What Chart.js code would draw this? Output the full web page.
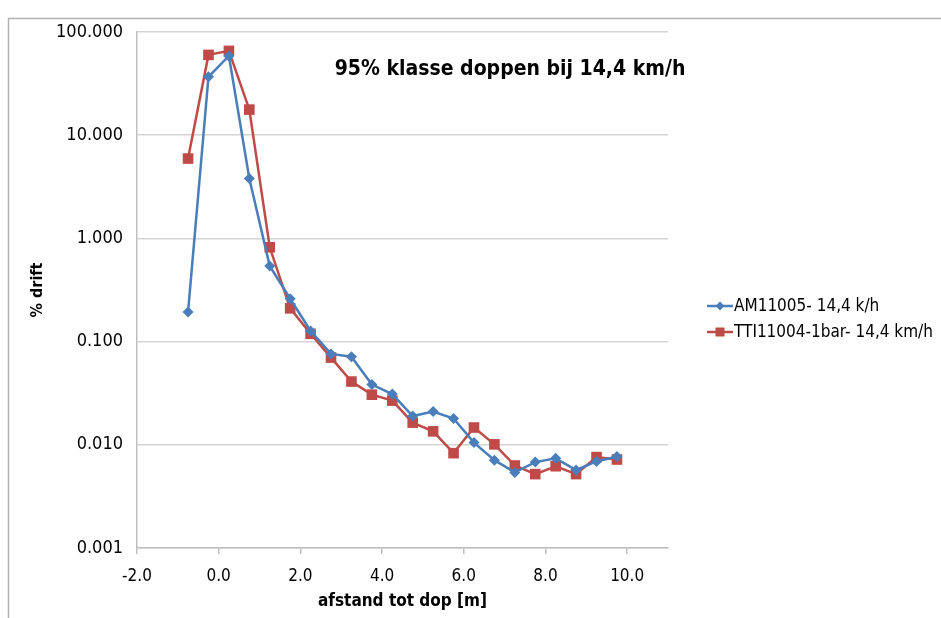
<!DOCTYPE html>
<html>
<head>
<meta charset="utf-8">
<script src="https://cdn.jsdelivr.net/npm/chart.js@4"></script>
<style>
  html, body { margin: 0; padding: 0; background: #fff; }
  #wrap { width: 941px; height: 618px; position: relative; }
</style>
</head>
<body>
<div id="wrap"><canvas id="chart" width="941" height="618"></canvas></div>
<script>
const distances = [-0.75, -0.25, 0.25, 0.75, 1.25, 1.75, 2.25, 2.75, 3.25, 3.75, 4.25, 4.75, 5.25, 5.75, 6.25, 6.75, 7.25, 7.75, 8.25, 8.75, 9.25, 9.75];
const am11005 = [0.194, 36.8, 58.6, 3.81, 0.54, 0.26, 0.127, 0.076, 0.0713, 0.0383, 0.031, 0.019, 0.021, 0.018, 0.0105, 0.0071, 0.0054, 0.0068, 0.0074, 0.0057, 0.0069, 0.0077];
const tti11004 = [5.94, 60.0, 65.6, 17.7, 0.82, 0.21, 0.119, 0.070, 0.041, 0.0306, 0.0268, 0.0164, 0.0135, 0.0083, 0.0147, 0.0101, 0.0063, 0.0052, 0.0062, 0.0052, 0.0076, 0.0072];
const xTicks = [-2, 0, 2, 4, 6, 8, 10];
const yTicks = [0.001, 0.01, 0.1, 1, 10, 100];
const seriesNames = ['AM11005- 14,4 k/h', 'TTI11004-1bar- 14,4 km/h'];
const chartTitle = '95% klasse doppen bij 14,4 km/h';

const FONT = "'Liberation Sans Narrow', 'Arial Narrow', 'DejaVu Sans Condensed', sans-serif";
const BLUE = '#4a7ebb';
const RED = '#be4b48';

const pairs = (ys) => distances.map((x, i) => ({ x: x, y: ys[i] }));

// title, custom legend and outer frame
const extras = {
  id: 'extras',
  afterDraw(chart) {
    const ctx = chart.ctx;
    const area = chart.chartArea;
    ctx.save();
    // frame like the screenshot border
    ctx.strokeStyle = '#b0b0b0';
    ctx.lineWidth = 1.5;
    ctx.beginPath();
    ctx.moveTo(8.5, 640);
    ctx.lineTo(8.5, 18.5);
    ctx.lineTo(960, 18.5);
    ctx.stroke();

    // title inside plot
    ctx.fillStyle = '#000';
    ctx.font = 'bold 21px ' + FONT;
    ctx.textAlign = 'center';
    ctx.textBaseline = 'middle';
    ctx.fillText(chartTitle, area.left + 373, area.top + 38);

    // legend
    const lx = area.right + 39;
    const rows = [
      { name: seriesNames[0], color: BLUE, shape: 'diamond', y: 306 },
      { name: seriesNames[1], color: RED, shape: 'square', y: 332 }
    ];
    ctx.font = '17px ' + FONT;
    ctx.textAlign = 'left';
    rows.forEach(r => {
      ctx.strokeStyle = r.color;
      ctx.fillStyle = r.color;
      ctx.lineWidth = 2.5;
      ctx.beginPath();
      ctx.moveTo(lx, r.y);
      ctx.lineTo(lx + 26, r.y);
      ctx.stroke();
      ctx.beginPath();
      if (r.shape === 'diamond') {
        ctx.moveTo(lx + 13, r.y - 4.5);
        ctx.lineTo(lx + 17.5, r.y);
        ctx.lineTo(lx + 13, r.y + 4.5);
        ctx.lineTo(lx + 8.5, r.y);
      } else {
        ctx.rect(lx + 8.5, r.y - 4.5, 9, 9);
      }
      ctx.fill();
      ctx.fillStyle = '#000';
      ctx.fillText(r.name, lx + 27, r.y + 1);
    });
    ctx.restore();
  }
};

new Chart(document.getElementById('chart'), {
  type: 'line',
  data: {
    datasets: [
      {
        label: seriesNames[0],
        data: pairs(am11005),
        borderColor: BLUE,
        backgroundColor: BLUE,
        borderWidth: 2.5,
        pointStyle: 'rectRot',
        pointRadius: 5.5,
        pointBorderWidth: 0,
        tension: 0
      },
      {
        label: seriesNames[1],
        data: pairs(tti11004),
        borderColor: RED,
        backgroundColor: RED,
        borderWidth: 2.5,
        pointStyle: 'rect',
        pointRadius: 7.5,
        pointBorderWidth: 0,
        tension: 0
      }
    ]
  },
  options: {
    responsive: false,
    animation: false,
    layout: { padding: { top: 32, right: 273, left: 28, bottom: 6 } },
    plugins: {
      legend: { display: false },
      title: { display: false },
      tooltip: { enabled: false }
    },
    scales: {
      x: {
        type: 'linear',
        min: -2,
        max: 11,
        afterBuildTicks: (s) => { s.ticks = xTicks.map(v => ({ value: v })); },
        afterFit: (s) => { s.height = 64; },
        ticks: {
          color: '#000',
          font: { family: FONT, size: 17 },
          padding: 12,
          callback: (v) => v.toFixed(1)
        },
        grid: { display: true, drawOnChartArea: false, drawTicks: true, tickLength: 6, color: '#bfbfbf', lineWidth: 1.5 },
        border: { display: true, color: '#bfbfbf', width: 1.5 },
        title: {
          display: true,
          text: 'afstand tot dop [m]',
          color: '#000',
          font: { family: FONT, size: 17, weight: 'bold' },
          padding: { top: 2, bottom: 0 }
        }
      },
      y: {
        type: 'logarithmic',
        min: 0.001,
        max: 100,
        afterBuildTicks: (s) => { s.ticks = yTicks.map(v => ({ value: v })); },
        afterFit: (s) => { s.width = 109; },
        ticks: {
          color: '#000',
          font: { family: FONT, size: 18 },
          padding: 14,
          callback: (v) => Number(v).toFixed(3)
        },
        grid: { color: '#d4d4d4', lineWidth: 1.5, drawTicks: false },
        border: { display: true, color: '#bfbfbf', width: 1.5 },
        title: {
          display: true,
          text: '% drift',
          color: '#000',
          font: { family: FONT, size: 16, weight: 'bold' },
          padding: { top: 0, bottom: 8 }
        }
      }
    }
  },
  plugins: [extras]
});
</script>
</body>
</html>
